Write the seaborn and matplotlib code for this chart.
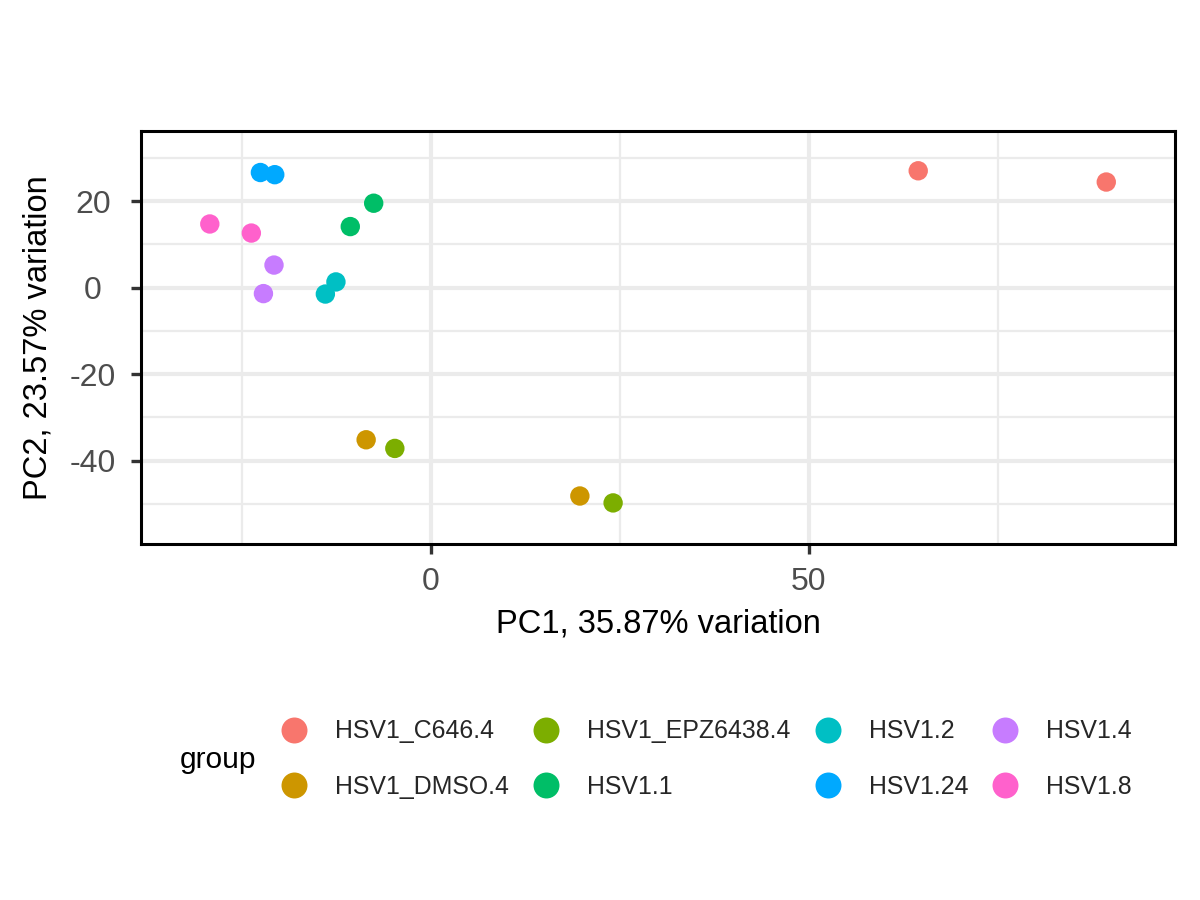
import matplotlib
matplotlib.use("Agg")
import matplotlib.pyplot as plt
from matplotlib.lines import Line2D
from matplotlib.ticker import FixedLocator
import seaborn as sns
import pandas as pd

# ---- data ----
groups = ["HSV1_C646.4", "HSV1_C646.4",
          "HSV1_DMSO.4", "HSV1_DMSO.4",
          "HSV1_EPZ6438.4", "HSV1_EPZ6438.4",
          "HSV1.1", "HSV1.1",
          "HSV1.2", "HSV1.2",
          "HSV1.24", "HSV1.24",
          "HSV1.4", "HSV1.4",
          "HSV1.8", "HSV1.8"]
pc1 = [64.5, 89.4,
       -8.6, 19.7,
       -4.8, 24.1,
       -7.6, -10.7,
       -12.6, -14.0,
       -22.6, -20.7,
       -20.8, -22.2,
       -29.3, -23.8]
pc2 = [27.0, 24.4,
       -35.2, -48.2,
       -37.2, -49.8,
       19.5, 14.1,
       1.3, -1.5,
       26.6, 26.1,
       5.2, -1.4,
       14.7, 12.6]
levels = ["HSV1_C646.4", "HSV1_DMSO.4", "HSV1_EPZ6438.4", "HSV1.1",
          "HSV1.2", "HSV1.24", "HSV1.4", "HSV1.8"]
colors = ["#F8766D", "#CD9600", "#7CAE00", "#00BE67",
          "#00BFC4", "#00A9FF", "#C77CFF", "#FF61CC"]
x_ticks = [0, 50]
y_ticks = [-40, -20, 0, 20]
x_minor = [-25, 25, 75]
y_minor = [-50, -30, -10, 10, 30]

df = pd.DataFrame({"PC1": pc1, "PC2": pc2, "group": groups})

sns.set_theme(style="white")
plt.rcParams["font.family"] = ["Liberation Sans", "DejaVu Sans"]
plt.rcParams["axes.unicode_minus"] = False

fig = plt.figure(figsize=(12, 9), dpi=100)
ax = fig.add_axes([140.7 / 1200, 1 - 544 / 900, (1175 - 140.7) / 1200, (544 - 131) / 900])

ax.set_xlim(-38.45, 98.5)
ax.set_ylim(-59.3, 36.2)

ax.xaxis.set_major_locator(FixedLocator(x_ticks))
ax.yaxis.set_major_locator(FixedLocator(y_ticks))
ax.xaxis.set_minor_locator(FixedLocator(x_minor))
ax.yaxis.set_minor_locator(FixedLocator(y_minor))

ax.grid(which="major", color="#EBEBEB", linewidth=3.0, zorder=0)
ax.grid(which="minor", color="#EBEBEB", linewidth=1.6, zorder=0)
ax.set_axisbelow(True)

sns.scatterplot(data=df, x="PC1", y="PC2", hue="group", hue_order=levels,
                palette=colors, s=195, linewidth=0, alpha=1, legend=False,
                ax=ax, zorder=3)

for sp in ax.spines.values():
    sp.set_visible(True)
    sp.set_color("black")
    sp.set_linewidth(2.2)

ax.tick_params(axis="both", which="major", length=7.5, width=2.4, color="#333333",
               labelsize=23, labelcolor="#4D4D4D", direction="out",
               bottom=True, left=True)
ax.tick_params(axis="x", which="major", pad=9)
ax.tick_params(axis="y", which="major", pad=27)
ax.tick_params(which="minor", length=0)
for lab in ax.get_yticklabels():
    lab.set_horizontalalignment("center")

ax.set_xlabel("PC1, 35.87% variation", fontsize=23.5, color="black", va="center", ha="center")
ax.set_ylabel("PC2, 23.57% variation", fontsize=23.5, color="black", va="center", ha="center")
ax.xaxis.set_label_coords(0.501, (544 - 624) / 413)
ax.yaxis.set_label_coords((38 - 140.7) / 1034.3, 0.5)

handles = [Line2D([0], [0], marker="o", linestyle="none", markersize=18.7,
                  markerfacecolor=c, markeredgewidth=0) for c in colors]
leg = fig.legend(handles, levels, loc="center left",
                 bbox_to_anchor=(275 / 1200, 1 - 759 / 900),
                 bbox_transform=fig.transFigure, ncol=4, frameon=False,
                 fontsize=17.9, handlelength=1.5, handletextpad=0.9,
                 columnspacing=0.75, labelspacing=1.27, borderpad=0,
                 borderaxespad=0)
fig.text(218 / 1200, 1 - 760 / 900, "group", fontsize=21.5, ha="center",
         va="center", color="black")

fig.savefig("out.png", dpi=100, facecolor="white")
